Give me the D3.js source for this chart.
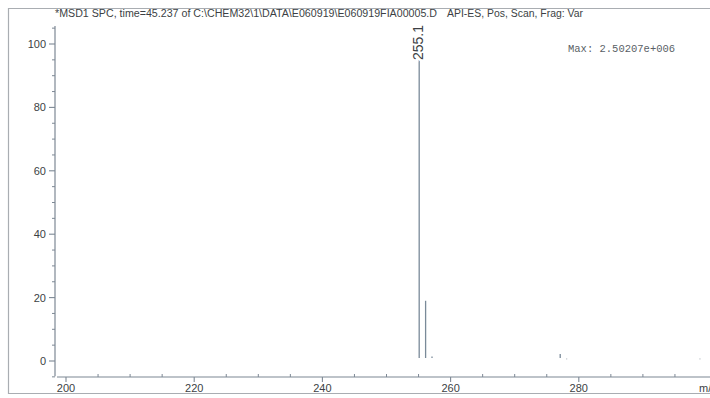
<!DOCTYPE html>
<html><head><meta charset="utf-8">
<script src="https://cdn.jsdelivr.net/npm/d3@7"></script>
<style>
html,body{margin:0;padding:0;background:#fff;}
svg{display:block;}
</style></head>
<body>
<svg id="c" width="710" height="398"></svg>
<script>
// ---- data ----
const titleLeft = "*MSD1 SPC, time=45.237 of C:\\CHEM32\\1\\DATA\\E060919\\E060919FIA00005.D";
const titleRight = "API-ES, Pos, Scan, Frag: Var";
const maxLabel = "Max: 2.50207e+006";
const peakMz = [255.1, 256.1, 257.1, 277.1, 278.1, 298.9];
const peakAbund = [100, 19, 1.4, 2.2, 0.4, 0.4];
const labeledPeaks = ["255.1"];
const xTickValues = [200, 220, 240, 260, 280];
const yTickValues = [0, 20, 40, 60, 80, 100];
const xAxisLabel = "m/z";

const svg = d3.select("#c");
const axisColor = "#7d8894";
const textColor = "#3c3f44";
const peakColor = "#7a8a99";

// frame
svg.append("path").attr("d","M720,8.5 H8.5 V393.5 H720")
  .attr("fill","none").attr("stroke","#a9adb2").attr("stroke-width",1.2);

const x = d3.scaleLinear().domain([200, 300]).range([66, 707]);
const y = d3.scaleLinear().domain([0, 100]).range([361, 44]);

// title
svg.append("text").attr("x",55).attr("y",17).attr("font-family","Liberation Sans, Arial, sans-serif")
  .attr("font-size",10).attr("fill",textColor).attr("textLength",382).attr("lengthAdjust","spacingAndGlyphs")
  .text(titleLeft);
svg.append("text").attr("x",447).attr("y",17).attr("font-family","Liberation Sans, Arial, sans-serif")
  .attr("font-size",10).attr("fill",textColor).attr("textLength",136).attr("lengthAdjust","spacingAndGlyphs")
  .text(titleRight);

// y axis
const yAxisX = 55;
const yMinor = d3.range(-5, 106, 5).filter(v => v % 20 !== 0);
svg.append("line").attr("x1",yAxisX).attr("x2",yAxisX).attr("y1",y(105.7)).attr("y2",y(-4.8))
  .attr("stroke",axisColor).attr("stroke-width",1.2);
const yA = svg.append("g");
yA.selectAll("line.maj").data(yTickValues).join("line")
  .attr("x1",yAxisX-6).attr("x2",yAxisX).attr("y1",d=>y(d)).attr("y2",d=>y(d))
  .attr("stroke",axisColor).attr("stroke-width",1.1);
yA.selectAll("line.min").data(yMinor).join("line").attr("class","min")
  .attr("x1",yAxisX-3).attr("x2",yAxisX).attr("y1",d=>y(d)).attr("y2",d=>y(d))
  .attr("stroke",axisColor).attr("stroke-width",1);
yA.selectAll("text").data(yTickValues).join("text")
  .attr("x",yAxisX-9).attr("y",d=>y(d)).attr("dy","0.36em").attr("text-anchor","end")
  .attr("font-family","Liberation Sans, Arial, sans-serif").attr("font-size",11).attr("fill",textColor)
  .text(d=>d);

// x axis
const xAxisY = 377;
svg.append("line").attr("x1",57).attr("x2",710).attr("y1",xAxisY).attr("y2",xAxisY)
  .attr("stroke",axisColor).attr("stroke-width",1.2);
const xMinor = d3.range(200, 301, 5).filter(v => v % 20 !== 0);
const xA = svg.append("g");
xA.selectAll("line.maj").data(xTickValues).join("line")
  .attr("x1",d=>x(d)).attr("x2",d=>x(d)).attr("y1",xAxisY).attr("y2",xAxisY+5)
  .attr("stroke",axisColor).attr("stroke-width",1.1);
xA.selectAll("line.min").data(xMinor).join("line").attr("class","min")
  .attr("x1",d=>x(d)).attr("x2",d=>x(d)).attr("y1",xAxisY-3).attr("y2",xAxisY)
  .attr("stroke",axisColor).attr("stroke-width",1);
xA.selectAll("text").data(xTickValues).join("text")
  .attr("x",d=>x(d)).attr("y",392).attr("text-anchor","middle")
  .attr("font-family","Liberation Sans, Arial, sans-serif").attr("font-size",11).attr("fill",textColor)
  .text(d=>d);
svg.append("text").attr("x",699).attr("y",392)
  .attr("font-family","Liberation Sans, Arial, sans-serif").attr("font-size",11).attr("fill",textColor)
  .text(xAxisLabel);

// peaks
const peaks = peakMz.map((m,i)=>({m, a:peakAbund[i]}));
svg.append("g").selectAll("line").data(peaks).join("line")
  .attr("x1",d=>x(d.m)).attr("x2",d=>x(d.m)).attr("y1",y(0)-3).attr("y2",d=>y(d.a))
  .attr("stroke",(d,i)=> i>=4 ? "#d6dadd" : peakColor).attr("stroke-width",1.3);

// peak label
const lp = peaks.filter(d => labeledPeaks.includes(String(d.m)));
svg.append("g").selectAll("text").data(lp).join("text")
  .attr("transform",d=>`translate(${x(d.m)+4},${y(d.a)+16}) rotate(-90)`)
  .attr("font-family","Liberation Sans, Arial, sans-serif").attr("font-size",14)
  .attr("fill",textColor).attr("stroke","#fff").attr("stroke-width",5).attr("paint-order","stroke")
  .text(d=>d.m.toFixed(1));

// max label
svg.append("text").attr("x",568).attr("y",52)
  .attr("font-family","Liberation Mono, DejaVu Sans Mono, monospace").attr("font-size",10.5)
  .attr("fill","#5a5f66").text(maxLabel);
</script>
</body></html>
